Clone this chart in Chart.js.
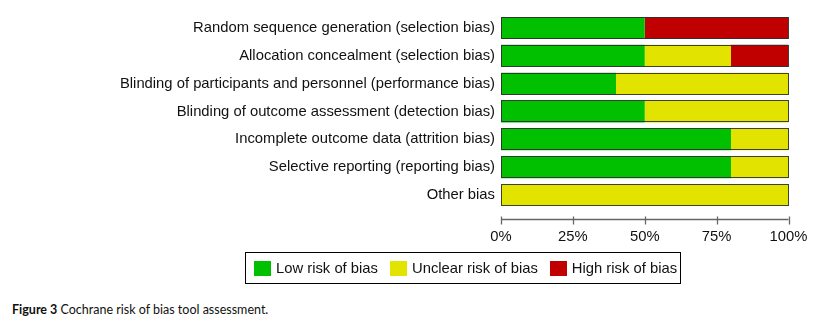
<!DOCTYPE html>
<html><head><meta charset="utf-8">
<script src="https://cdn.jsdelivr.net/npm/chart.js@4.4.1/dist/chart.umd.min.js"></script>
<style>
html,body{margin:0;padding:0;background:#fff;width:819px;height:326px;overflow:hidden;position:relative;}
#wrap{position:absolute;left:0;top:0;width:819px;height:260px;}
#legend{position:absolute;left:245px;top:252px;width:434px;height:30px;border:1px solid #000;display:flex;align-items:center;font-family:"Liberation Sans",Arial,sans-serif;font-size:14.8px;color:#111;box-sizing:content-box;white-space:nowrap;}
#legend .it{display:flex;align-items:center;margin-left:8px;margin-right:4px;flex-shrink:0;}
#legend .sw{width:17px;height:15px;margin-right:5px;flex-shrink:0;}
#caption{position:absolute;left:12px;top:302px;font-family:Lato,"Open Sans",sans-serif;font-size:12.5px;color:#111;white-space:nowrap;}
</style></head>
<body>
<div id="wrap"><canvas id="c"></canvas></div>
<div id="legend"></div>
<div id="caption"><b>Figure 3</b> Cochrane risk of bias tool assessment.</div>
<script>
const categories = [
  "Random sequence generation (selection bias)",
  "Allocation concealment (selection bias)",
  "Blinding of participants and personnel (performance bias)",
  "Blinding of outcome assessment (detection bias)",
  "Incomplete outcome data (attrition bias)",
  "Selective reporting (reporting bias)",
  "Other bias"
];
const lowRisk     = [50, 50, 40, 50, 80, 80, 0];
const unclearRisk = [0, 30, 60, 50, 20, 20, 100];
const highRisk    = [50, 20, 0, 0, 0, 0, 0];
const xTicks = [0, 25, 50, 75, 100];
const seriesNames = ["Low risk of bias", "Unclear risk of bias", "High risk of bias"];
const seriesColors = ["#00C000", "#E3E300", "#C00000"];

const AXIS_GAP = 10;
const FONT = '"Liberation Sans", Arial, sans-serif';

const outlinePlugin = {
  id: 'outline',
  afterDatasetsDraw(chart) {
    const ctx = chart.ctx;
    const xs = chart.scales.x;
    const m0 = chart.getDatasetMeta(0);
    ctx.save();
    ctx.strokeStyle = 'rgba(45,45,45,0.9)';
    ctx.lineWidth = 1;
    categories.forEach((c, i) => {
      const el = m0.data[i];
      const total = lowRisk[i] + unclearRisk[i] + highRisk[i];
      const l = xs.getPixelForValue(0), r = xs.getPixelForValue(total);
      const h = el.height;
      const t = el.y - h / 2;
      ctx.strokeRect(Math.round(l) + 0.5, Math.round(t) + 0.5, Math.round(r - l) - 1, Math.round(h) - 1);
    });
    ctx.restore();
  },
  afterDraw(chart) {
    const ctx = chart.ctx;
    const xs = chart.scales.x;
    const y = Math.round(chart.chartArea.bottom + AXIS_GAP) + 0.5;
    ctx.save();
    ctx.strokeStyle = '#666';
    ctx.lineWidth = 1.3;
    ctx.beginPath();
    ctx.moveTo(xs.getPixelForValue(0), y);
    ctx.lineTo(xs.getPixelForValue(100), y);
    ctx.stroke();
    xTicks.forEach(v => {
      const x = Math.round(xs.getPixelForValue(v)) + 0.5;
      ctx.beginPath(); ctx.moveTo(x, y - 3); ctx.lineTo(x, y + 5); ctx.stroke();
    });
    ctx.restore();
  }
};

const chart = new Chart(document.getElementById('c'), {
  type: 'bar',
  data: {
    labels: categories,
    datasets: [
      {label: seriesNames[0], data: lowRisk, backgroundColor: seriesColors[0]},
      {label: seriesNames[1], data: unclearRisk, backgroundColor: seriesColors[1]},
      {label: seriesNames[2], data: highRisk, backgroundColor: seriesColors[2]}
    ]
  },
  options: {
    indexAxis: 'y',
    responsive: true,
    maintainAspectRatio: false,
    animation: false,
    layout: {padding: {left: 0, right: 30.5, top: 14, bottom: 11}},
    datasets: {bar: {barPercentage: 0.79, categoryPercentage: 1, borderWidth: 0}},
    plugins: {legend: {display: false}, tooltip: {enabled: false}},
    scales: {
      x: {
        stacked: true, min: 0, max: 100,
        afterBuildTicks: s => { s.ticks = xTicks.map(v => ({value: v})); },
        afterFit: s => { s.height = 40; s.paddingRight = 0; s.paddingLeft = 0; },
        ticks: {callback: v => v + '%', color: '#111', padding: 19, maxRotation: 0, autoSkip: false,
                font: {family: FONT, size: 14.8}},
        grid: {display: false, drawTicks: false},
        border: {display: false}
      },
      y: {
        stacked: true,
        afterFit: s => { s.width = 501; s.paddingTop = 0; s.paddingBottom = 0; },
        ticks: {color: '#111', padding: 6, autoSkip: false, font: {family: FONT, size: 14.8}},
        grid: {display: false, drawTicks: false},
        border: {display: false}
      }
    }
  },
  plugins: [outlinePlugin]
});

const lg = document.getElementById('legend');
seriesNames.forEach((n, i) => {
  const it = document.createElement('div'); it.className = 'it';
  const sw = document.createElement('div'); sw.className = 'sw'; sw.style.background = seriesColors[i];
  const tx = document.createElement('span'); tx.textContent = n;
  it.appendChild(sw); it.appendChild(tx); lg.appendChild(it);
});
</script>
</body></html>
